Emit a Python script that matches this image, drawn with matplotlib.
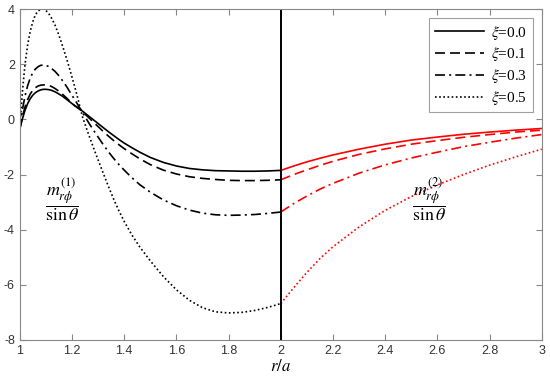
import matplotlib
matplotlib.use("Agg")
import matplotlib.pyplot as plt

plt.rcParams['mathtext.fontset'] = 'stix'
plt.rcParams['font.family'] = ['Liberation Sans', 'DejaVu Sans']

# region 1: 1 <= r/a <= 2
r1 = [1.0, 1.01, 1.02, 1.03, 1.04, 1.05, 1.06, 1.07, 1.08, 1.09, 1.10, 1.11, 1.12,
      1.135, 1.15, 1.165, 1.18, 1.195, 1.21, 1.22, 1.23, 1.24, 1.26, 1.28, 1.30,
      1.32, 1.34, 1.36, 1.38, 1.40, 1.43, 1.46, 1.50, 1.55, 1.60, 1.65, 1.70,
      1.75, 1.80, 1.85, 1.90, 1.95, 2.0]
m1_00 = [-0.35, 0.02, 0.33, 0.57, 0.75, 0.88, 0.97, 1.03, 1.07, 1.09, 1.09, 1.08, 1.06,
         1.00, 0.92, 0.83, 0.72, 0.61, 0.50, 0.44, 0.38, 0.30, 0.15, 0.00, -0.15,
         -0.30, -0.45, -0.59, -0.73, -0.86, -1.03, -1.19, -1.38, -1.56, -1.69, -1.78, -1.83,
         -1.86, -1.87, -1.88, -1.88, -1.87, -1.85]
m1_01 = [-0.35, 0.10, 0.45, 0.72, 0.92, 1.06, 1.15, 1.21, 1.24, 1.25, 1.25, 1.23, 1.20,
         1.12, 1.02, 0.90, 0.77, 0.63, 0.50, 0.43, 0.36, 0.27, 0.10, -0.08, -0.26,
         -0.44, -0.61, -0.77, -0.92, -1.06, -1.25, -1.43, -1.64, -1.84, -1.98, -2.08, -2.14,
         -2.18, -2.21, -2.22, -2.22, -2.21, -2.19]
m1_03 = [-0.35, 0.35, 0.85, 1.22, 1.50, 1.70, 1.83, 1.91, 1.96, 1.97, 1.96, 1.92, 1.86,
         1.74, 1.58, 1.39, 1.18, 0.95, 0.72, 0.57, 0.41, 0.25, -0.06, -0.36, -0.64,
         -0.92, -1.18, -1.42, -1.64, -1.84, -2.12, -2.37, -2.64, -2.92, -3.13, -3.29, -3.40,
         -3.46, -3.48, -3.47, -3.45, -3.41, -3.36]
m1_05 = [-0.35, 1.00, 2.00, 2.70, 3.20, 3.55, 3.80, 3.93, 3.99, 4.00, 3.95, 3.85, 3.70,
         3.42, 3.05, 2.63, 2.18, 1.70, 1.20, 0.85, 0.47, 0.10, -0.45, -0.97, -1.47,
         -1.96, -2.44, -2.90, -3.32, -3.70, -4.20, -4.63, -5.13, -5.70, -6.18, -6.56, -6.83,
         -6.98, -7.02, -7.00, -6.93, -6.82, -6.68]

# region 2: 2 <= r/a <= 3
r2 = [2.0, 2.05, 2.1, 2.15, 2.2, 2.3, 2.4, 2.5, 2.6, 2.7, 2.8, 2.9, 3.0]
m2_00 = [-1.85, -1.69, -1.54, -1.41, -1.29, -1.08, -0.90, -0.75, -0.64, -0.54, -0.46, -0.39, -0.33]
m2_01 = [-2.19, -2.00, -1.83, -1.67, -1.52, -1.27, -1.07, -0.90, -0.77, -0.65, -0.55, -0.46, -0.39]
m2_03 = [-3.36, -3.05, -2.78, -2.53, -2.32, -1.95, -1.65, -1.40, -1.19, -0.99, -0.83, -0.68, -0.55]
m2_05 = [-6.68, -6.10, -5.55, -5.05, -4.62, -3.90, -3.30, -2.80, -2.38, -2.00, -1.66, -1.36, -1.08]

labels = [r'$\xi$=0.0', r'$\xi$=0.1', r'$\xi$=0.3', r'$\xi$=0.5']
styles = ['-', (0, (6, 3)), (0, (6, 2.5, 1.2, 2.5)), (0, (1, 1.5))]

fig = plt.figure(figsize=(5.5, 3.79), dpi=100)
ax = fig.add_axes([0.036, 0.103, 0.949, 0.873])

for y, ls, lab in zip([m1_00, m1_01, m1_03, m1_05], styles, labels):
    ax.plot(r1, y, color='black', ls=ls, lw=1.2, label=lab)
for y, ls in zip([m2_00, m2_01, m2_03, m2_05], styles):
    ax.plot(r2, y, color='red', ls=ls, lw=1.2)

ax.axvline(2, color='black', lw=1.4)

ax.set_xlim(1, 3)
ax.set_ylim(-8, 4)
ax.set_xticks([1, 1.2, 1.4, 1.6, 1.8, 2, 2.2, 2.4, 2.6, 2.8, 3])
ax.set_xticklabels(['1', '1.2', '1.4', '1.6', '1.8', '2', '2.2', '2.4', '2.6', '2.8', '3'])
ax.set_yticks([-8, -6, -4, -2, 0, 2, 4])
ax.set_yticklabels(['-8', '-6', '-4', '-2', '0', '2', '4'])
ax.tick_params(direction='in', top=True, right=True, length=4, width=0.8,
               color='#888888', labelsize=9, labelcolor='#333333')
for s in ax.spines.values():
    s.set_color('#888888')
    s.set_linewidth(0.8)

ax.set_xlabel(r'$r/a$', fontsize=12, labelpad=1)

ax.text(1.16, -2.95, r'$\dfrac{m_{r\phi}^{(1)}}{\sin\theta}$', fontsize=13,
        ha='center', va='center')
ax.text(2.57, -2.95, r'$\dfrac{m_{r\phi}^{(2)}}{\sin\theta}$', fontsize=13,
        ha='center', va='center')

leg = ax.legend(loc='upper right', prop={'family': 'Liberation Serif', 'size': 11},
                handlelength=3.2, frameon=True,
                fancybox=False, edgecolor='#888888', borderpad=0.35,
                labelspacing=0.25, handletextpad=0.5, borderaxespad=0.6)
leg.get_frame().set_linewidth(0.8)

fig.savefig('out.png', dpi=100)
